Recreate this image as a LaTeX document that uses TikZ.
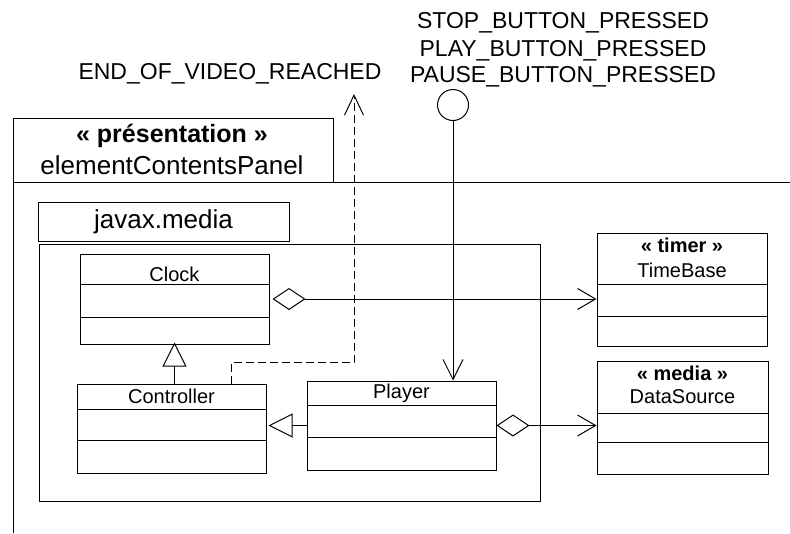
\documentclass[tikz,border=0pt]{standalone}
\usepackage{fontspec}
\setmainfont{Liberation Sans}
\usetikzlibrary{arrows.meta}

\begin{document}
\begin{tikzpicture}[x=1pt, y=-1pt, line width=1pt,
    klass/.style={draw, inner sep=0pt},
    cname/.style={font=\fontsize{20}{24}\selectfont, anchor=base, inner sep=0pt},
    stereo/.style={font=\fontsize{20}{24}\selectfont\bfseries, anchor=base, inner sep=0pt},
    evtxt/.style={font=\fontsize{23}{27}\selectfont, anchor=base, inner sep=0pt},
    pkgtxt/.style={font=\fontsize{26}{30}\selectfont, inner sep=0pt},
    aggr/.style={{Diamond[open,length=33pt,width=22pt]}-{Straight Barb[length=18pt,width=21pt]}},
    gen/.style={-{Triangle[open,length=24pt,width=24pt]}},
    flow/.style={-{Straight Barb[length=20pt,width=20pt]}},
    dep/.style={dash pattern=on 8pt off 4pt, -{Straight Barb[length=20pt,width=19pt]}}]
  \useasboundingbox (0,0) rectangle (790,533);

  % presentation panel, cut off at the page border
  \draw (13,118) rectangle (333,182);
  \draw (13,533) -- (13,182) -- (790,182);
  \node[pkgtxt, anchor=base, font=\fontsize{25}{30}\selectfont\bfseries] (stereopanel) at (172,142) {« présentation »};
  \node[pkgtxt, anchor=base] (panelname) at (172,174) {elementContentsPanel};

  % javax.media package
  \node[draw, pkgtxt, minimum width=251pt, minimum height=39pt] (mediatab) at (163.5,221.5) {javax.media};
  \draw (39,244) rectangle (540,501);

  % classes: name/left/top/right/bottom/line/line
  \foreach \nm/\xa/\ya/\xb/\yb/\la/\lb in {
      clock/80/254/269/344/284/317,
      controller/77/384/266/473/409/440,
      player/307/381/496/470/405/437,
      timebase/597/233/767/346/284/316,
      datasource/597/361/768/474/413/442} {
    \node[klass, minimum width={(\xb-\xa)*1pt}, minimum height={(\yb-\ya)*1pt}]
      (\nm) at ({(\xa+\xb)/2},{(\ya+\yb)/2}) {};
    \draw (\xa,\la) -- (\xb,\la) (\xa,\lb) -- (\xb,\lb);
  }
  \node[cname] (clockname) at (174.5,281) {Clock};
  \node[cname] (controllername) at (171.5,403) {Controller};
  \node[cname] (playername) at (401.5,398) {Player};
  \node[stereo] (timerstereo) at (682,252) {« timer »};
  \node[cname] (timebasename) at (682,277) {TimeBase};
  \node[stereo] (mediastereo) at (682.5,380) {« media »};
  \node[cname] (datasourcename) at (682.5,403) {DataSource};

  % events
  \node[evtxt] (endtxt) at (230,79) {END\_OF\_VIDEO\_REACHED};
  \coordinate (endvideo) at (354,94);
  \foreach \ev/\yy in {STOP/28, PLAY/56, PAUSE/82}
    \node[evtxt] (\ev) at (563,\yy) {\ev\_BUTTON\_PRESSED};
  \node[draw, circle, minimum size=31pt, inner sep=0pt] (evts) at (453,105) {};

  % connectors
  \draw[aggr, shorten <=3pt] (clock.east) -- (clock.east -| timebase.west);
  \draw[aggr] (player.east) -- (player.east -| datasource.west);
  \draw[gen, shorten >=-2pt] (clock.south |- controller.north) -- (clock.south);
  \draw[gen, shorten >=2pt] (player.west) -- (player.west -| controller.east);
  \draw[flow] (evts) -- (evts |- player.north);
  \draw[dep] ([xshift=59.5pt]controller.north) -- ++(0,-21) -| (endvideo);
\end{tikzpicture}
\end{document}
